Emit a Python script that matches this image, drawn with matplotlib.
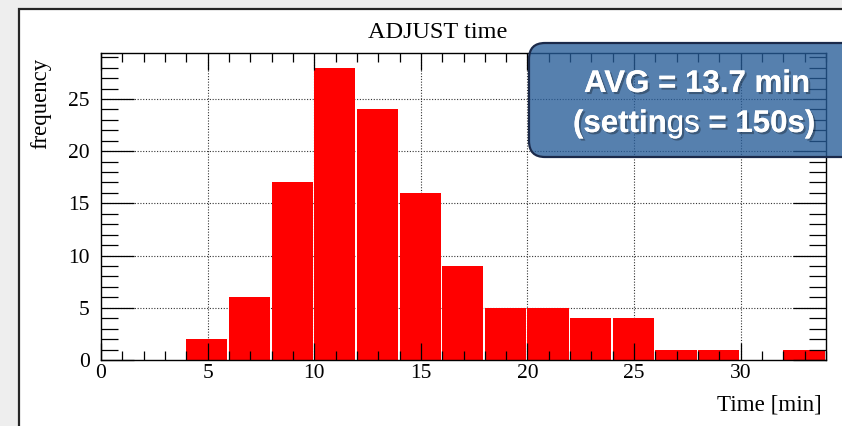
import numpy as np
import matplotlib.pyplot as plt
import matplotlib.patheffects as pe
from matplotlib.patches import Rectangle, FancyBboxPatch
from matplotlib.ticker import MultipleLocator

# histogram contents: 2-minute bins starting at 4 min
bin_left = np.arange(4, 34, 2)
counts = [2, 6, 17, 28, 24, 16, 9, 5, 5, 4, 4, 1, 1, 0, 1]
bin_width = 2

avg_minutes = 13.7
setting_seconds = 150

serif = ['Liberation Serif', 'DejaVu Serif']
sans = ['Liberation Sans', 'DejaVu Sans']

W, H = 842, 426
fig = plt.figure(figsize=(W / 100, H / 100), dpi=100)
fig.patch.set_facecolor('#eeeeee')

# white canvas with dark frame
canvas = Rectangle((19 / W, -0.1), 1.2, 1.1 - 9 / H, transform=fig.transFigure,
                   facecolor='white', edgecolor='#262626', lw=1.6, zorder=0)
fig.add_artist(canvas)

ax = fig.add_axes([101 / W, 1 - 360 / H, 725 / W, 307 / H])
ax.bar(bin_left, counts, width=bin_width * 0.965, align='edge', color='#ff0000',
       edgecolor='none', zorder=1)

ax.set_xlim(0, 34)
ax.set_ylim(0, max(counts) * 1.05)

ax.xaxis.set_major_locator(MultipleLocator(5))
ax.xaxis.set_minor_locator(MultipleLocator(1))
ax.yaxis.set_major_locator(MultipleLocator(5))
ax.yaxis.set_minor_locator(MultipleLocator(1))

# dotted grid under the bars, ticks stay on top
for xv in ax.get_xticks():
    if 0 < xv < 34:
        ax.axvline(xv, ls=(0, (1, 1.5)), color='#333333', lw=0.8, zorder=0.5)
for yv in ax.get_yticks():
    if 0 < yv < max(counts) * 1.05:
        ax.axhline(yv, ls=(0, (1, 1.5)), color='#333333', lw=0.8, zorder=0.5)

ax.tick_params(axis='both', which='both', direction='in', top=True, right=True,
               color='black', width=0.9, labelsize=15.5)
ax.tick_params(axis='y', which='major', length=24, pad=8)
ax.tick_params(axis='y', which='minor', length=12)
ax.tick_params(axis='x', which='major', length=12, pad=3)
ax.tick_params(axis='x', which='minor', length=6.5)
for lab in ax.get_xticklabels() + ax.get_yticklabels():
    lab.set_family(serif)
for sp in ax.spines.values():
    sp.set_linewidth(1.0)
    sp.set_zorder(3)

fig.text(437.5 / W, 1 - 38 / H, 'ADJUST time', ha='center', va='baseline',
         fontsize=17.5, family=serif)
fig.text(41 / W, 1 - 58 / H, 'frequency', rotation=90, ha='center', va='top',
         fontsize=16.4, family=serif)
fig.text(822 / W, 1 - 410 / H, 'Time [min]', ha='right', va='baseline',
         fontsize=16.6, family=serif)

# translucent callout box in the upper right
box = FancyBboxPatch((529 / W, 1 - 157 / H), 0.45, 114 / H,
                     boxstyle='round,pad=0,rounding_size=0.019',
                     mutation_aspect=W / H, transform=fig.transFigure,
                     facecolor=(38 / 255, 92 / 255, 152 / 255, 0.78),
                     edgecolor='#1b2a4a', lw=1.6, zorder=5)
fig.add_artist(box)

shadow = [pe.withSimplePatchShadow(offset=(1.5, -1.5), shadow_rgbFace='black', alpha=0.3),
          pe.Normal()]
fig.text(810 / W, 1 - 92 / H, f'AVG = {avg_minutes} min', ha='right', va='baseline',
         fontsize=22.5, fontweight='bold', color='white', family=sans,
         path_effects=shadow, zorder=6)

t1 = fig.text(573 / W, 1 - 132 / H, '(settin', ha='left', va='baseline',
              fontsize=22.5, fontweight='bold', color='white', family=sans,
              path_effects=shadow, zorder=6)
t2 = fig.text(0, 0, 'gs', fontsize=22.5, fontweight='normal', color='white',
              family=sans, path_effects=shadow, zorder=6)
t3 = fig.text(0, 0, f' = {setting_seconds}s)', fontsize=22.5, fontweight='bold',
              color='white', family=sans, path_effects=shadow, zorder=6)

# chain the pieces of the second line left to right
fig.canvas.draw()
renderer = fig.canvas.get_renderer()
inv = fig.transFigure.inverted()
x_cur = inv.transform(t1.get_window_extent(renderer).get_points())[1][0]
for t in (t2, t3):
    t.set_position((x_cur, 1 - 132 / H))
    t.set_va('baseline')
    x_cur = inv.transform(t.get_window_extent(renderer).get_points())[1][0]

fig.savefig('out.png', dpi=100, facecolor=fig.get_facecolor())
